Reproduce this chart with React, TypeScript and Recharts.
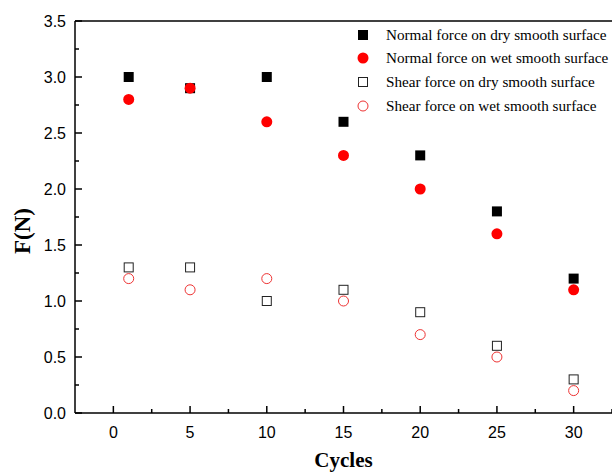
import { ScatterChart, Scatter, XAxis, YAxis, ReferenceLine } from "recharts";

const cycles = [1, 5, 10, 15, 20, 25, 30];
const normalDry = [3.0, 2.9, 3.0, 2.6, 2.3, 1.8, 1.2];
const normalWet = [2.8, 2.9, 2.6, 2.3, 2.0, 1.6, 1.1];
const shearDry = [1.3, 1.3, 1.0, 1.1, 0.9, 0.6, 0.3];
const shearWet = [1.2, 1.1, 1.2, 1.0, 0.7, 0.5, 0.2];

const xTicks = [0, 2.5, 5, 7.5, 10, 12.5, 15, 17.5, 20, 22.5, 25, 27.5, 30, 32.5];
const yTicks = [0, 0.25, 0.5, 0.75, 1, 1.25, 1.5, 1.75, 2, 2.25, 2.5, 2.75, 3, 3.25, 3.5];

const toPoints = (vals: number[]) => cycles.map((c, i) => ({ x: c, y: vals[i] }));

const series = [
  { name: "Normal force on dry smooth surface", data: toPoints(normalDry), kind: "sqFill" },
  { name: "Normal force on wet smooth surface", data: toPoints(normalWet), kind: "cirFill" },
  { name: "Shear force on dry smooth surface", data: toPoints(shearDry), kind: "sqOpen" },
  { name: "Shear force on wet smooth surface", data: toPoints(shearWet), kind: "cirOpen" },
];

const serif = "Liberation Serif, Times New Roman, serif";
const sans = "Liberation Sans, Arial, sans-serif";

const Marker = ({ cx, cy, kind }: { cx: number; cy: number; kind: string }) => {
  if (kind === "sqFill") return <rect x={cx - 5} y={cy - 5} width={10} height={10} fill="#000" />;
  if (kind === "cirFill") return <circle cx={cx} cy={cy} r={5.5} fill="#ff0000" />;
  if (kind === "sqOpen")
    return <rect x={cx - 4.5} y={cy - 4.5} width={9} height={9} fill="#fff" stroke="#222" strokeWidth={1} />;
  return <circle cx={cx} cy={cy} r={5} fill="#fff" stroke="#ee3333" strokeWidth={1} />;
};

const XTick = (props: any) => {
  const { x, y, payload } = props;
  const major = payload.value % 5 === 0;
  return (
    <g>
      <line x1={x} y1={y} x2={x} y2={y - (major ? 7 : 4)} stroke="#000" strokeWidth={1.5} />
      {major && payload.value <= 30 && (
        <text x={x} y={y + 25} textAnchor="middle" fontSize={16} fontFamily={sans} fill="#000">
          {payload.value}
        </text>
      )}
    </g>
  );
};

const YTick = (props: any) => {
  const { x, y, payload } = props;
  const major = Math.abs((payload.value * 2) % 1) < 1e-6;
  return (
    <g>
      <line x1={x} y1={y} x2={x + (major ? 7 : 4)} y2={y} stroke="#000" strokeWidth={1.5} />
      {major && (
        <text x={x - 9} y={y + 6} textAnchor="end" fontSize={16} fontFamily={sans} fill="#000">
          {payload.value.toFixed(1)}
        </text>
      )}
    </g>
  );
};

const XLabel = (props: any) => {
  const { viewBox } = props;
  return (
    <text
      x={viewBox.x + viewBox.width / 2}
      y={467}
      textAnchor="middle"
      fontFamily={serif}
      fontWeight="bold"
      fontSize={21}
      fill="#000"
    >
      Cycles
    </text>
  );
};

const YLabel = () => (
  <text
    x={30}
    y={231}
    transform="rotate(-90 30 231)"
    textAnchor="middle"
    fontFamily={serif}
    fontWeight="bold"
    fontSize={23}
    fill="#000"
  >
    F(N)
  </text>
);

const LegendBox = () => (
  <div
    style={{
      position: "absolute",
      top: 23,
      left: 356,
      fontFamily: serif,
      fontSize: 15.2,
      color: "#000",
      pointerEvents: "none",
    }}
  >
    {series.map((s) => (
      <div key={s.name} style={{ display: "flex", alignItems: "center", height: 23.6, whiteSpace: "nowrap" }}>
        <svg width={22} height={14} style={{ marginRight: 8 }}>
          <Marker cx={7} cy={7} kind={s.kind} />
        </svg>
        <span>{s.name}</span>
      </div>
    ))}
  </div>
);

export default function App() {
  return (
    <div style={{ position: "absolute", left: 0, top: 0, width: 612, height: 473, background: "#fff" }}>
      <ScatterChart width={612} height={473} margin={{ top: 21, right: 0, bottom: 0, left: 0 }}>
        <XAxis
          type="number"
          dataKey="x"
          domain={[-2.5, 32.5]}
          ticks={xTicks}
          interval={0}
          height={60}
          tickSize={0}
          tickMargin={0}
          tick={<XTick />}
          axisLine={{ stroke: "#000", strokeWidth: 1.5 }}
          label={<XLabel />}
        />
        <YAxis
          type="number"
          dataKey="y"
          domain={[0, 3.5]}
          ticks={yTicks}
          interval={0}
          width={75}
          tickSize={0}
          tickMargin={0}
          tick={<YTick />}
          axisLine={{ stroke: "#000", strokeWidth: 1.5 }}
          label={<YLabel />}
        />
        <ReferenceLine y={3.5} stroke="#000" strokeWidth={1.5} ifOverflow="visible" />
        {series.map((s) => (
          <Scatter
            key={s.name}
            name={s.name}
            data={s.data}
            isAnimationActive={false}
            shape={(p: any) => <Marker cx={p.cx} cy={p.cy} kind={s.kind} />}
          />
        ))}
      </ScatterChart>
      <LegendBox />
    </div>
  );
}
